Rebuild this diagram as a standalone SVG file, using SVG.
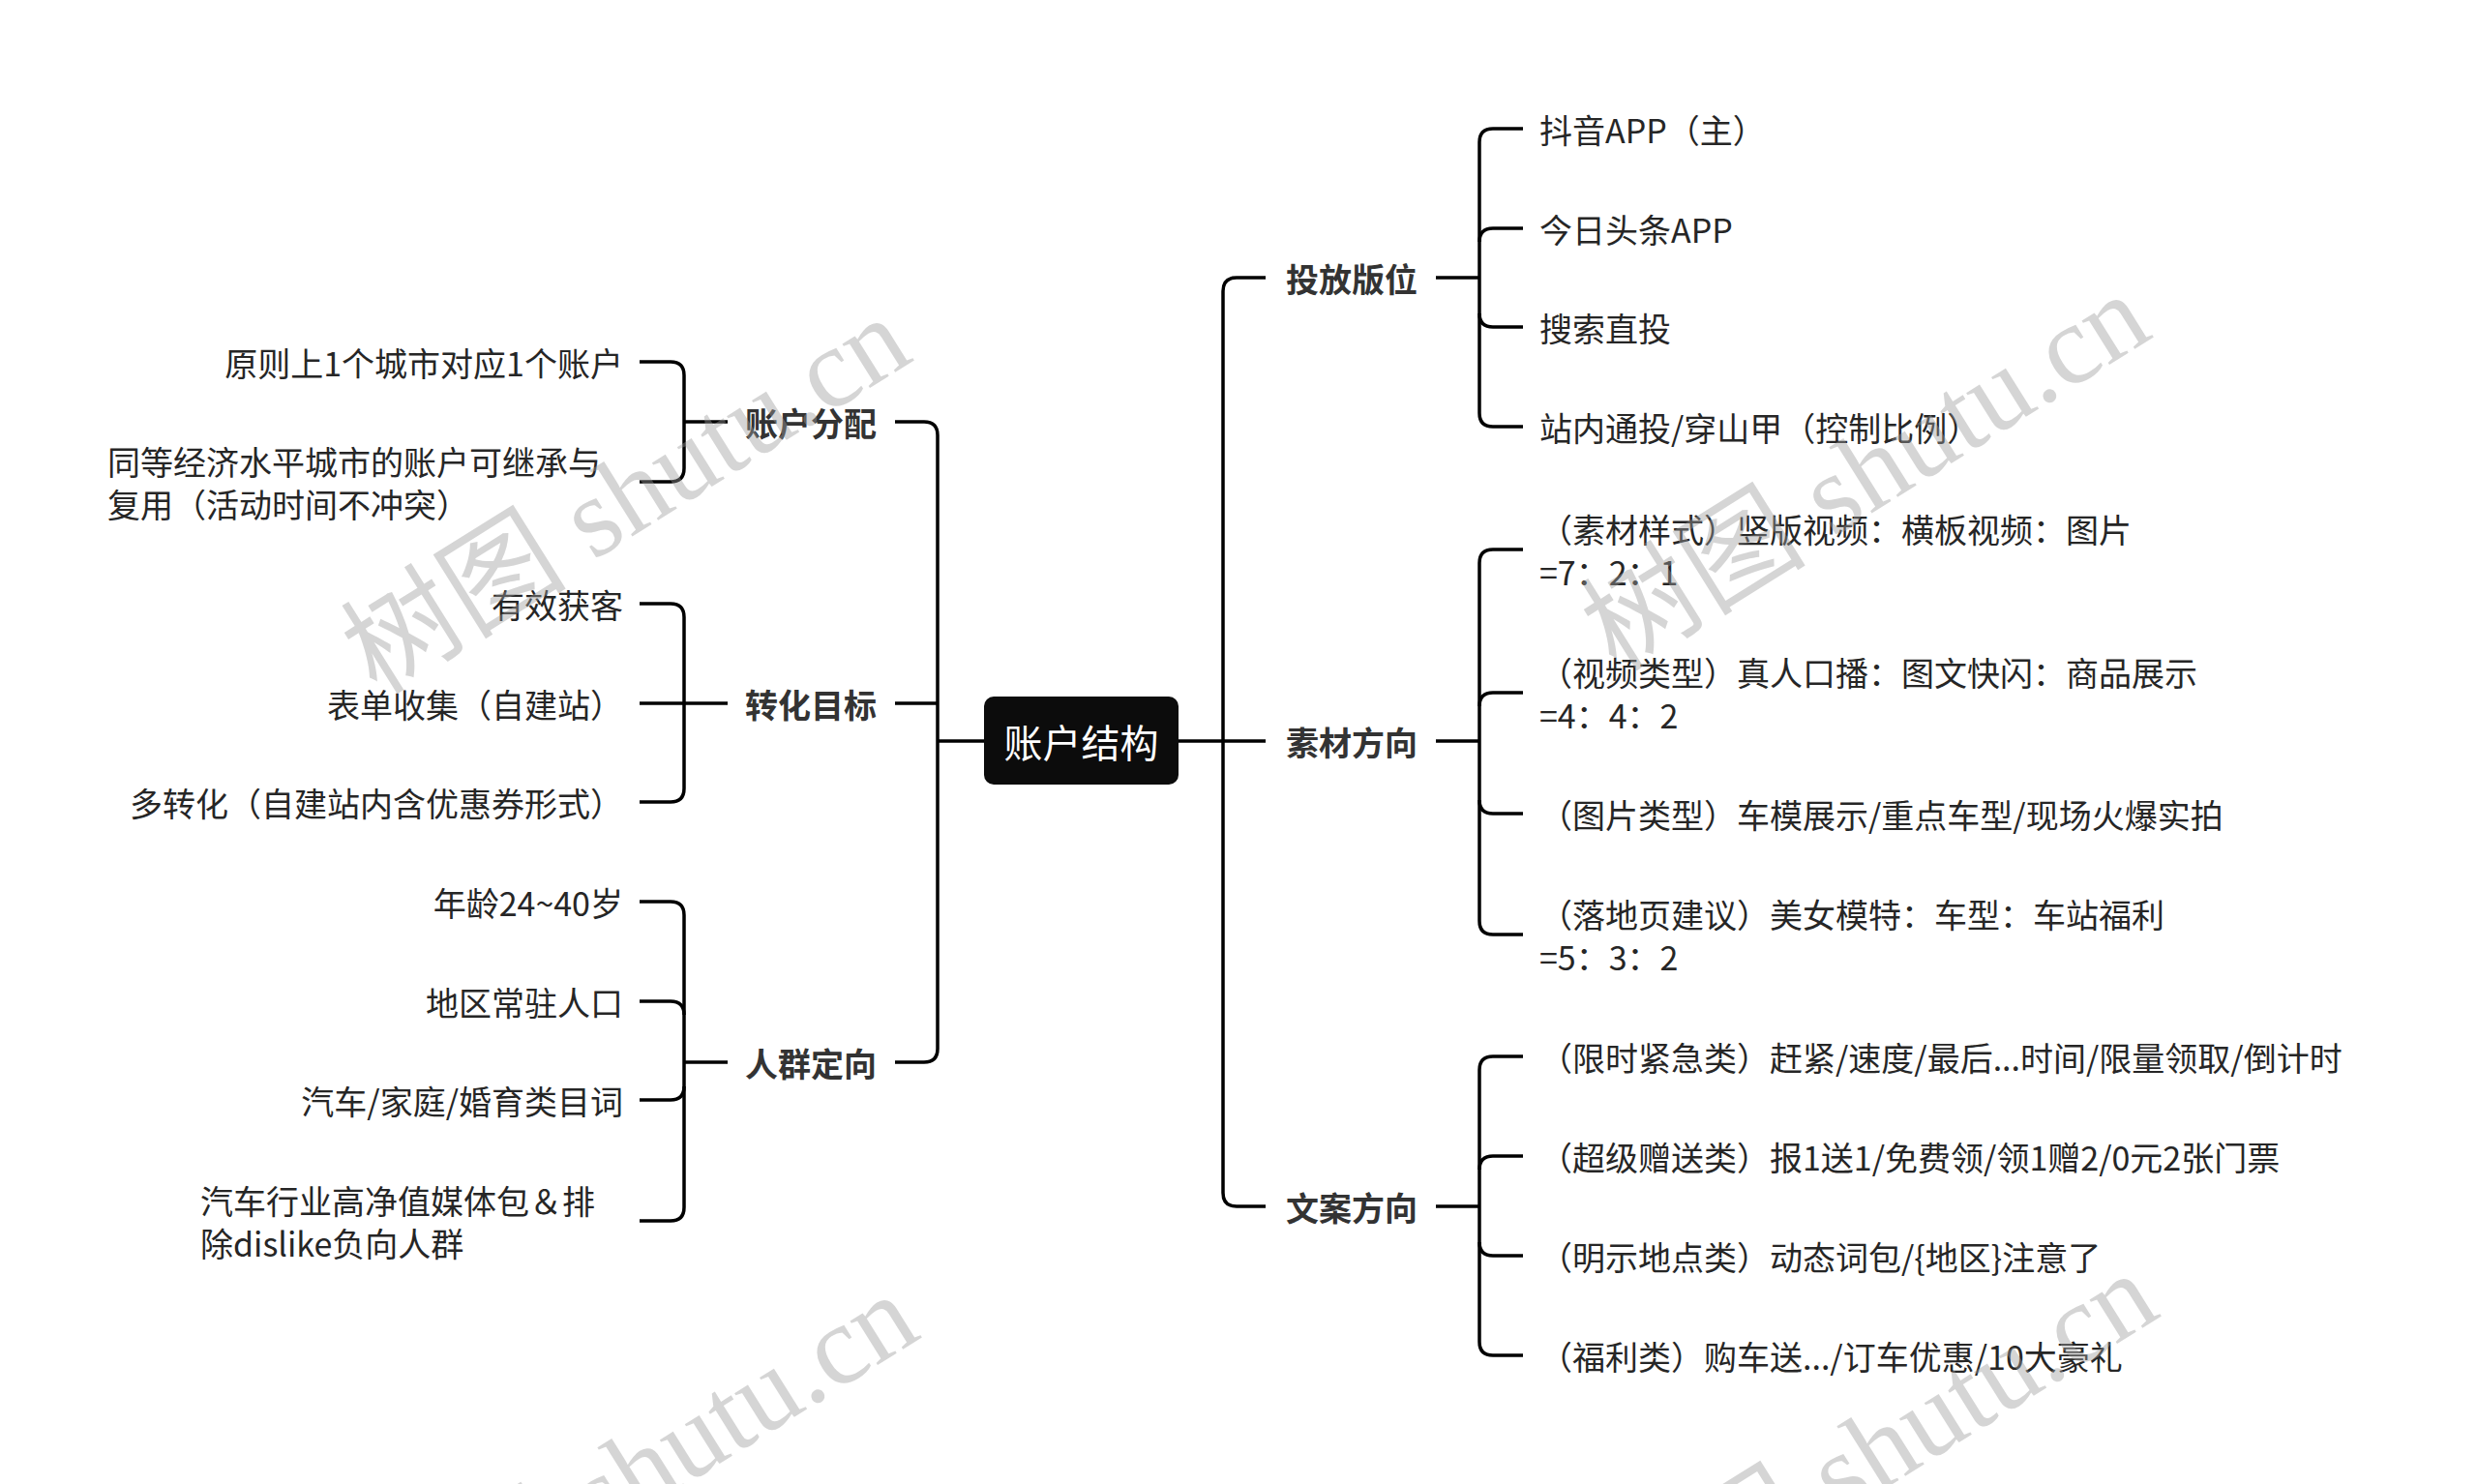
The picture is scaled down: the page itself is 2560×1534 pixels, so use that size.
<svg xmlns="http://www.w3.org/2000/svg" width="2560" height="1534" viewBox="0 0 2560 1534">
<style>
.ln{fill:none;stroke:#000;stroke-width:3.5;stroke-linecap:butt}
.t{font-family:"Noto Sans CJK SC","Liberation Sans",sans-serif;font-size:34px;fill:#262626;dominant-baseline:central}
.b{font-family:"Noto Sans CJK SC","Liberation Sans",sans-serif;font-size:34px;font-weight:bold;fill:#333;dominant-baseline:central;text-anchor:middle}
.e{text-anchor:end}
.wm{font-family:"Liberation Serif","Noto Sans CJK SC",serif;font-size:117px;fill:#9a9a9a;fill-opacity:0.42;text-anchor:middle;dominant-baseline:central}
</style>
<rect width="2560" height="1534" fill="#fff"/>
<g id="connectors">
<path class="ln" d="M969,766 H1017"/>
<path class="ln" d="M925,436 H955 Q969,436 969,450 V1084 Q969,1098 955,1098 H925"/>
<path class="ln" d="M925,727 H969"/>
<path class="ln" d="M1218,766 H1308"/>
<path class="ln" d="M1308,287 H1278 Q1264,287 1264,301 V1233 Q1264,1247 1278,1247 H1308"/>
<path class="ln" d="M661,374 H693 Q707,374 707,388 V484 Q707,498 693,498 H661"/>
<path class="ln" d="M707,436 H752"/>
<path class="ln" d="M661,624 H693 Q707,624 707,638 V815 Q707,829 693,829 H661"/>
<path class="ln" d="M661,727 H752"/>
<path class="ln" d="M661,932 H693 Q707,932 707,946 V1248 Q707,1262 693,1262 H661"/>
<path class="ln" d="M707,1049 Q707,1035 693,1035 H661"/>
<path class="ln" d="M707,1123 Q707,1137 693,1137 H661"/>
<path class="ln" d="M707,1098 H752"/>
<path class="ln" d="M1484,287 H1529"/>
<path class="ln" d="M1574,133 H1543 Q1529,133 1529,147 V427 Q1529,441 1543,441 H1574"/>
<path class="ln" d="M1529,250 Q1529,236 1543,236 H1574"/>
<path class="ln" d="M1529,324 Q1529,338 1543,338 H1574"/>
<path class="ln" d="M1484,766 H1529"/>
<path class="ln" d="M1574,568 H1543 Q1529,568 1529,582 V952 Q1529,966 1543,966 H1574"/>
<path class="ln" d="M1529,730 Q1529,716 1543,716 H1574"/>
<path class="ln" d="M1529,827 Q1529,841 1543,841 H1574"/>
<path class="ln" d="M1484,1247 H1529"/>
<path class="ln" d="M1574,1092 H1543 Q1529,1092 1529,1106 V1387 Q1529,1401 1543,1401 H1574"/>
<path class="ln" d="M1529,1209 Q1529,1195 1543,1195 H1574"/>
<path class="ln" d="M1529,1284 Q1529,1298 1543,1298 H1574"/>
</g>
<g id="root">
<rect x="1017" y="720" width="201" height="91" rx="10" fill="#0c0c0c"/>
<text x="1117.5" y="766" font-family="Noto Sans CJK SC, Liberation Sans, sans-serif" font-size="40" fill="#fff" text-anchor="middle" dominant-baseline="central">账户结构</text>
</g>
<g id="n-zhfp"><text class="b" x="838" y="436">账户分配</text></g>
<g id="n-zhmb"><text class="b" x="838" y="727">转化目标</text></g>
<g id="n-rqdx"><text class="b" x="838" y="1098">人群定向</text></g>
<g id="n-tfbw"><text class="b" x="1397" y="287">投放版位</text></g>
<g id="n-scfx"><text class="b" x="1397" y="766">素材方向</text></g>
<g id="n-wafx"><text class="b" x="1397" y="1247">文案方向</text></g>
<g id="l-1"><text class="t e" x="644" y="374">原则上1个城市对应1个账户</text></g>
<g id="l-2"><text class="t" x="111" y="476">同等经济水平城市的账户可继承与</text><text class="t" x="111" y="520">复用（活动时间不冲突）</text></g>
<g id="l-3"><text class="t e" x="644" y="624">有效获客</text></g>
<g id="l-4"><text class="t e" x="644" y="727">表单收集（自建站）</text></g>
<g id="l-5"><text class="t e" x="644" y="829">多转化（自建站内含优惠券形式）</text></g>
<g id="l-6"><text class="t e" x="644" y="932">年龄24~40岁</text></g>
<g id="l-7"><text class="t e" x="644" y="1035">地区常驻人口</text></g>
<g id="l-8"><text class="t e" x="644" y="1137">汽车/家庭/婚育类目词</text></g>
<g id="l-9"><text class="t" x="207" y="1240">汽车行业高净值媒体包＆排</text><text class="t" x="207" y="1284">除dislike负向人群</text></g>
<g id="r-1"><text class="t" x="1591" y="133">抖音APP（主）</text></g>
<g id="r-2"><text class="t" x="1591" y="236">今日头条APP</text></g>
<g id="r-3"><text class="t" x="1591" y="338">搜索直投</text></g>
<g id="r-4"><text class="t" x="1591" y="441">站内通投/穿山甲（控制比例）</text></g>
<g id="r-5"><text class="t" x="1591" y="546">（素材样式）竖版视频：横板视频：图片</text><text class="t" x="1591" y="590">=7：2：1</text></g>
<g id="r-6"><text class="t" x="1591" y="694">（视频类型）真人口播：图文快闪：商品展示</text><text class="t" x="1591" y="738">=4：4：2</text></g>
<g id="r-7"><text class="t" x="1591" y="841">（图片类型）车模展示/重点车型/现场火爆实拍</text></g>
<g id="r-8"><text class="t" x="1591" y="944">（落地页建议）美女模特：车型：车站福利</text><text class="t" x="1591" y="988">=5：3：2</text></g>
<g id="r-9"><text class="t" x="1591" y="1092">（限时紧急类）赶紧/速度/最后...时间/限量领取/倒计时</text></g>
<g id="r-10"><text class="t" x="1591" y="1195">（超级赠送类）报1送1/免费领/领1赠2/0元2张门票</text></g>
<g id="r-11"><text class="t" x="1591" y="1298">（明示地点类）动态词包/{地区}注意了</text></g>
<g id="r-12"><text class="t" x="1591" y="1401">（福利类）购车送.../订车优惠/10大豪礼</text></g>
<g id="watermarks">
<text class="wm" transform="translate(647,512) rotate(-32)">树图 shutu.cn</text>
<text class="wm" transform="translate(1928,488) rotate(-32)">树图 shutu.cn</text>
<text class="wm" transform="translate(655,1522) rotate(-32)">树图 shutu.cn</text>
<text class="wm" transform="translate(1936,1500) rotate(-32)">树图 shutu.cn</text>
</g>
</svg>
